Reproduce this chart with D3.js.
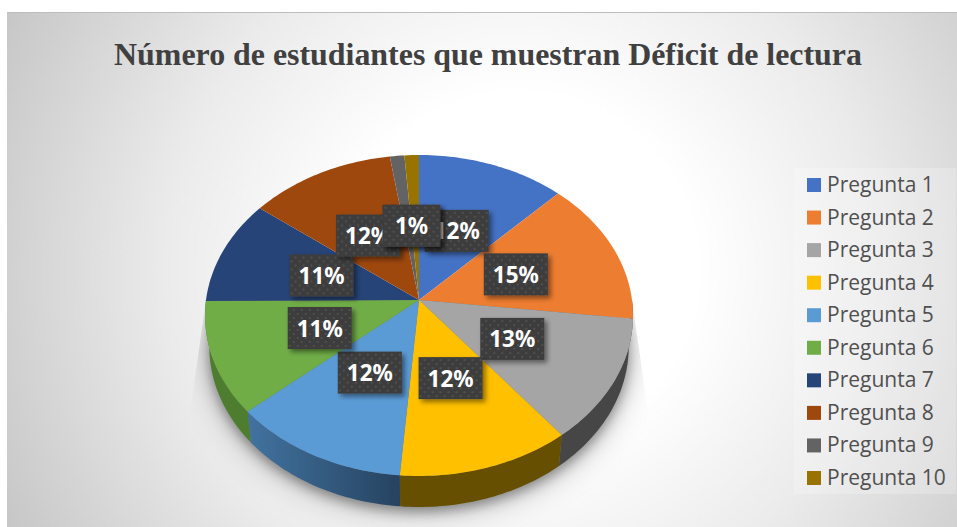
<!DOCTYPE html>
<html><head><meta charset="utf-8">
<style>html,body{margin:0;padding:0;background:#fff}svg{display:block}</style>
<script src="https://cdn.jsdelivr.net/npm/d3@7"></script></head>
<body><svg id="c" width="957" height="527"></svg>
<script>
const titleText = "Número de estudiantes que muestran Déficit de lectura";
const categories = ["Pregunta 1","Pregunta 2","Pregunta 3","Pregunta 4","Pregunta 5","Pregunta 6","Pregunta 7","Pregunta 8","Pregunta 9","Pregunta 10"];
const shares = [12.3,14.55,12.52,11.93,12.3,11.3,10.55,12.15,1.2,1.2];
const colors = ["#4472C4","#ED7D31","#A5A5A5","#FFC000","#5B9BD5","#70AD47","#264478","#9E480E","#636363","#997300"];
const wallColors = ["#2a4476","#8e4b1d","#464646","#664f00","#2f5273","#4f7d30","#172948","#5f2b08","#3b3b3b","#5c4500"];

const svg = d3.select("#c");
const defs = svg.append("defs");
const W = 957, H = 527;
const cx = 419, cy = 300, Rx = 213, Ry = 159, persp = 0.0966, depth = 31, bottomScale = 0.98;

// background
const bg = defs.append("radialGradient").attr("id","bg").attr("gradientUnits","userSpaceOnUse")
  .attr("cx",520).attr("cy",270).attr("r",590);
bg.append("stop").attr("offset","0.3").attr("stop-color","#ffffff");
bg.append("stop").attr("offset","0.6").attr("stop-color","#ebebeb");
bg.append("stop").attr("offset","1").attr("stop-color","#c4c4c4");
svg.append("rect").attr("x",7).attr("y",12).attr("width",W-7).attr("height",H-12).attr("fill","url(#bg)");
svg.append("rect").attr("x",7).attr("y",12).attr("width",W-7).attr("height",1).attr("fill","#bdbdbd");

// title
svg.append("text").attr("x",488).attr("y",65).attr("text-anchor","middle")
  .attr("font-family","Liberation Serif").attr("font-weight","bold").attr("font-size",31.9)
  .attr("fill","#404040").text(titleText);

// projection of a point on the pie disc (angle clockwise from top, r in 0..1)
const proj = (a, r, bottom) => {
  const u = r*Math.sin(a), v = r*Math.cos(a), w = 1 + persp*v, k = bottom ? bottomScale : 1;
  return [cx + Rx*k*u/w, cy + (bottom ? depth : 0) - Ry*v/w];
};
const line = d3.line();
const arcPts = (a0, a1, bottom) => {
  const n = Math.max(2, Math.ceil(Math.abs(a1-a0)/0.02));
  return d3.range(n+1).map(i => proj(a0 + (a1-a0)*i/n, 1, bottom));
};

const slices = d3.pie().sort(null).value(d => d)(shares);

// shadow: soft copies of the pie's base, cut by a flared outline at the flanks
const addBlur = (id, s) => defs.append("filter").attr("id",id).attr("x","-25%").attr("y","-25%").attr("width","150%").attr("height","150%")
  .append("feGaussianBlur").attr("stdDeviation",s);
addBlur("blurWide",16); addBlur("blurTight",6);
const flare = 15, flareY = cy + 105;
defs.append("clipPath").attr("id","flank").append("path").attr("d", line([
  [cx-Rx,cy],[cx+Rx,cy],[cx+Rx+flare,flareY],[cx+Rx+flare,H],[cx-Rx-flare,H],[cx-Rx-flare,flareY]
])+"Z");
const base = line(arcPts(0,2*Math.PI,true))+"Z";
const sg = svg.append("g").attr("clip-path","url(#flank)");
sg.append("path").attr("d",base).attr("transform","translate(0,2)").attr("fill","#000").attr("fill-opacity",0.34).attr("filter","url(#blurWide)");
sg.append("path").attr("d",base).attr("transform","translate(0,5)").attr("fill","#000").attr("fill-opacity",0.32).attr("filter","url(#blurTight)");

// walls
const wallMin = Math.PI*0.5, wallMax = Math.PI*1.5;
const blueWall = defs.append("linearGradient").attr("id","blueWall").attr("gradientUnits","userSpaceOnUse")
  .attr("x1",250).attr("x2",400).attr("y1",0).attr("y2",0);
blueWall.append("stop").attr("offset",0).attr("stop-color","#41729f");
blueWall.append("stop").attr("offset",1).attr("stop-color","#264360");
svg.append("g").selectAll("path").data(slices).join("path")
  .filter(d => d.endAngle > wallMin && d.startAngle < wallMax)
  .attr("d", d => {
    const a0 = Math.max(d.startAngle, wallMin), a1 = Math.min(d.endAngle, wallMax);
    return line(arcPts(a0,a1,false).concat(arcPts(a1,a0,true))) + "Z";
  })
  .attr("fill", d => d.index === 4 ? "url(#blueWall)" : wallColors[d.index]);

// top
svg.append("g").selectAll("path").data(slices).join("path")
  .attr("d", d => line([proj(0,0,false)].concat(arcPts(d.startAngle,d.endAngle,false))) + "Z")
  .attr("fill", (d,i) => colors[i]);

// labels
const pat = defs.append("pattern").attr("id","dots").attr("patternUnits","userSpaceOnUse")
  .attr("width",8).attr("height",8);
pat.append("rect").attr("width",8).attr("height",8).attr("fill","#3d3d3d");
pat.append("rect").attr("x",1).attr("y",1).attr("width",2).attr("height",2).attr("fill","#4f4f4f");
pat.append("rect").attr("x",5).attr("y",5).attr("width",2).attr("height",2).attr("fill","#4f4f4f");
const sh = defs.append("filter").attr("id","sh").attr("x","-20%").attr("y","-20%").attr("width","150%").attr("height","150%");
sh.append("feDropShadow").attr("dx",3).attr("dy",3).attr("stdDeviation",2.5).attr("flood-color","#000").attr("flood-opacity",0.45);
const fmt = d3.format(".0%"), total = d3.sum(shares);
// the two tiny slices share one label position, so their boxes stack as in the source
const tiny = slices.filter(d => d.value/total < 0.02);
const tinyMid = (d3.min(tiny, d => d.startAngle) + d3.max(tiny, d => d.endAngle))/2;
const lab = svg.append("g").selectAll("g").data(slices).join("g")
  .attr("transform", d => {
    const mid = d.value/total < 0.02 ? tinyMid : (d.startAngle+d.endAngle)/2;
    const p = proj(mid, 0.49, false);
    return `translate(${p[0]},${p[1]})`;
  });
lab.append("rect").attr("y",-21).attr("height",42).attr("fill","url(#dots)").attr("filter","url(#sh)");
lab.append("text").attr("text-anchor","middle").attr("y",8.5)
  .attr("font-family","Noto Sans").attr("font-weight",700).attr("font-size",22.5)
  .attr("fill","#fff").text(d => fmt(d.value/total));
lab.each(function(){
  const g = d3.select(this), tw = g.select("text").node().getComputedTextLength();
  const bw = tw/2 + 41;
  g.select("rect").attr("x",-bw/2).attr("width",bw);
});

// legend
svg.append("rect").attr("x",794).attr("y",168).attr("width",162).attr("height",326)
  .attr("fill","#fff").attr("fill-opacity",0.22);
const ly = d3.scalePoint().domain(categories).range([185,478]);
const lg = svg.append("g").selectAll("g").data(categories).join("g")
  .attr("transform", d => `translate(807,${ly(d)})`);
lg.append("rect").attr("y",-7).attr("width",14).attr("height",14).attr("fill",(d,i)=>colors[i]);
lg.append("text").attr("x",20).attr("y",7).attr("font-family","Open Sans").attr("font-size",21)
  .attr("fill","#505050").text(d=>d);
</script></body></html>
